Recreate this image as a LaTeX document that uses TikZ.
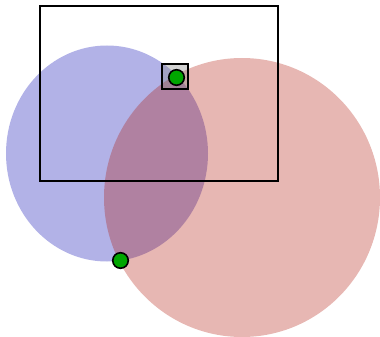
\documentclass[tikz,border=0pt]{standalone}
\begin{document}
\begin{tikzpicture}[x=1pt,y=-1pt,
  dot/.style={circle,draw=black,line width=1.6pt,fill=green!65!black,minimum size=15.5pt,inner sep=0pt}]
\definecolor{bluec}{RGB}{5,5,176}
\definecolor{redc}{RGB}{176,24,9}
\useasboundingbox (0,0) rectangle (380,337);
\fill[bluec,fill opacity=0.31] (107,153.5) ellipse [x radius=101,y radius=108];
\fill[redc,fill opacity=0.31] (242,197.5) ellipse [x radius=138,y radius=139.5];
\draw[line width=2pt] (40,6) rectangle (278,181);
\fill[gray,fill opacity=0.35] (162,64.5) rectangle (188,88.5);
\node[draw=black,line width=2pt,minimum width=26pt,minimum height=24pt,inner sep=0pt] (sq) at (175,76.5) {};
\node[dot] (d1) at (176.5,77.5) {};
\node[dot] (d2) at (120.5,260.5) {};
\end{tikzpicture}
\end{document}
